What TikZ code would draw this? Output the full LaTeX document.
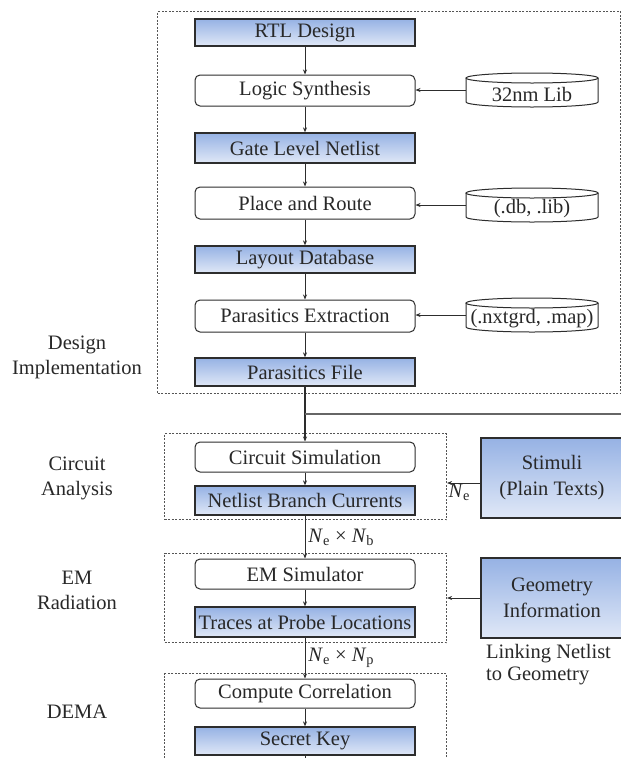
\documentclass[tikz,border=0pt]{standalone}
\usepackage{fontspec}
\setmainfont{Liberation Serif}
\usetikzlibrary{arrows.meta,calc}
\definecolor{boxtop}{RGB}{150,178,228}
\definecolor{boxbot}{RGB}{224,232,247}
\definecolor{linec}{RGB}{45,45,45}
\definecolor{dashc}{RGB}{85,85,85}
\definecolor{txtc}{RGB}{40,40,40}
\newcommand\mycyl[3]{%
  \draw[linec, line width=1pt, fill=white] (532,#2-12) ellipse [x radius=66pt, y radius=5pt];
  \draw[linec, line width=1pt] (466,#2-12) -- (466,#2+12) arc[start angle=180, end angle=360, x radius=66pt, y radius=5pt] -- (598,#2-12);
  \node[minimum width=132pt, minimum height=34pt, inner sep=0pt] (#1) at (532,#2) {};
  \node[text=txtc, inner sep=0pt] (#1t) at (532,#2+4) {#3};
}
\begin{document}
\begin{tikzpicture}[x=1pt,y=-1pt,
  font=\fontsize{20.5}{24}\selectfont,
  bluebox/.style={draw=linec, line width=1.3pt, top color=boxtop, bottom color=boxbot, minimum width=220pt, minimum height=28pt, inner sep=0pt, text=txtc},
  whitebox/.style={draw=linec, line width=1pt, rounded corners=5pt, fill=white, minimum width=220pt, minimum height=30pt, inner sep=0pt, text=txtc},
  sidebox/.style={draw=linec, line width=1.3pt, top color=boxtop, bottom color=boxbot, minimum width=142pt, minimum height=80pt, inner sep=0pt, text=txtc, align=center, font=\fontsize{20.5}{26}\selectfont},
  grp/.style={draw=dashc, line width=1.1pt, dash pattern=on 2pt off 1.5pt, anchor=north west, inner sep=0pt},
  conn/.style={draw=linec, line width=0.9pt, -{Stealth[length=5pt,width=4pt]}},
  lbl/.style={align=center, text=txtc, font=\fontsize{20.5}{25}\selectfont},
  note/.style={text=txtc, inner sep=1pt, font=\fontsize{20.5}{22}\selectfont}
]
\useasboundingbox (0,0) rectangle (621,758);
\clip (0,0) rectangle (621,758);
\fill[white] (0,0) rectangle (621,758);

% groups
\node[grp, minimum width=463pt, minimum height=382pt] (di) at (157,11) {};
\node[grp, minimum width=282pt, minimum height=86pt] (ca) at (164,433) {};
\node[grp, minimum width=282pt, minimum height=89pt] (em) at (164,553) {};
\node[grp, minimum width=282pt, minimum height=120pt] (dema) at (164,673) {};

% main column
\node[bluebox, minimum height=27pt] (rtl) at (305,32.5) {RTL Design};
\node[whitebox, minimum height=31pt] (ls) at (305,90.5) {Logic Synthesis};
\node[bluebox, minimum height=30pt] (gln) at (305,148) {Gate Level Netlist};
\node[whitebox, minimum height=32pt] (pr) at (305,203) {Place and Route};
\node[bluebox, minimum height=27pt] (ld) at (305,259.5) {Layout Database};
\node[whitebox, minimum height=32pt] (pe) at (305,316) {Parasitics Extraction};
\node[bluebox, minimum height=28pt] (pf) at (305,372) {Parasitics File};
\node[whitebox, minimum height=30pt] (cs) at (305,457) {Circuit Simulation};
\node[bluebox, minimum height=29pt] (nbc) at (305,500.5) {Netlist Branch Currents};
\node[whitebox, minimum height=30pt] (ems) at (305,574) {EM Simulator};
\node[bluebox, minimum height=30pt] (tr) at (305,622) {Traces at Probe Locations};
\node[whitebox, minimum height=29pt] (cc) at (305,693.5) {Compute Correlation};
\node[bluebox, minimum height=28pt] (sk) at (305,741) {Secret Key};

% libraries
\mycyl{lib}{90}{32nm Lib}
\mycyl{db}{205}{(.db, .lib)}
\mycyl{nx}{315}{(.nxtgrd, .map)}

% side boxes
\node[sidebox] (st) at (552,478) {Stimuli\\(Plain Texts)};
\node[sidebox] (geo) at (552,598) {Geometry\\Information};
\node[note, anchor=north west, align=left] (link) at (485,643) {Linking Netlist\\to Geometry};

% left labels
\node[lbl] (ldi) at (77,357.5) {Design\\Implementation};
\node[lbl] (lca) at (77,478) {Circuit\\Analysis};
\node[lbl] (lem) at (77,590) {EM\\Radiation};
\node[lbl] (ldema) at (77,712) {DEMA};

% connectors
\draw[conn] (rtl) -- (ls);
\draw[conn] (ls) -- (gln);
\draw[conn] (gln) -- (pr);
\draw[conn] (pr) -- (ld);
\draw[conn] (ld) -- (pe);
\draw[conn] (pe) -- (pf);
\draw[conn] (lib.west) -- (lib.west -| ls.east);
\draw[conn] (db.west) -- (db.west -| pr.east);
\draw[conn] (nx.west) -- (nx.west -| pe.east);

\coordinate (br) at (305,414);
\coordinate (redge) at (621,414);
\draw[linec, line width=1.4pt] (pf) -- (br);
\draw[conn, line width=1.4pt] (br) -- (cs);
\draw[draw=black!60, line width=1.2pt] (br) -- (redge);

\draw[conn] (cs) -- (nbc);
\draw[conn] (nbc) -- node[right, inner sep=3pt, text=txtc] (nenb) {\textit{N}\textsubscript{e} × \textit{N}\textsubscript{b}} (ems);
\draw[conn] (ems) -- (tr);
\draw[conn] (tr) -- node[right, inner sep=3pt, text=txtc] (nenp) {\textit{N}\textsubscript{e} × \textit{N}\textsubscript{p}} (cc);
\draw[conn] (cc) -- (sk);
\coordinate (bot) at (305,760);
\draw[linec, line width=1pt] (sk) -- (bot);

\draw[conn] ($(st.west)+(0,5)$) -- ($(st.west -| ca.east)+(0,5)$) node[below right, inner sep=1pt, text=txtc] (ne) {\textit{N}\textsubscript{e}};
\draw[conn] (geo.west) -- (geo.west -| em.east);
\end{tikzpicture}
\end{document}
